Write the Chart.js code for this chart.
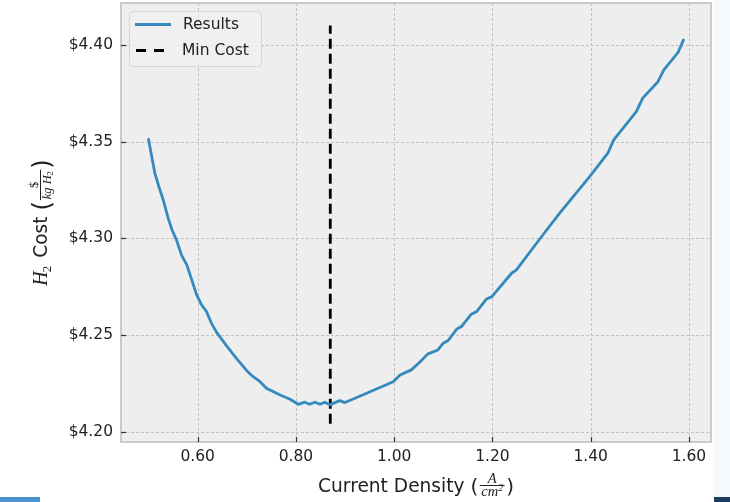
<!DOCTYPE html>
<html><head><meta charset="utf-8">
<script src="https://cdn.jsdelivr.net/npm/chart.js@4.4.1/dist/chart.umd.min.js"></script>
<style>html,body{margin:0;padding:0;background:#fff;overflow:hidden}canvas{display:block}</style>
</head><body>
<canvas id="c" width="730" height="502"></canvas>
<script>
// ---- data ----
const currentDensity = [0.500,0.513,0.520,0.530,0.540,0.548,0.557,0.567,0.578,0.588,0.598,0.608,0.618,0.628,0.639,0.659,0.679,0.700,0.713,0.727,0.740,0.767,0.788,0.805,0.818,0.828,0.839,0.849,0.859,0.869,0.889,0.900,0.944,0.998,1.012,1.035,1.052,1.069,1.089,1.100,1.110,1.127,1.137,1.157,1.168,1.188,1.199,1.239,1.249,1.296,1.337,1.398,1.435,1.447,1.493,1.506,1.537,1.549,1.578,1.589];
const h2Cost = [4.3512,4.3336,4.3276,4.3198,4.3104,4.3043,4.2991,4.2914,4.2862,4.2785,4.2707,4.2655,4.2621,4.2561,4.2512,4.2443,4.2379,4.2315,4.2284,4.2258,4.2224,4.2190,4.2167,4.2141,4.2152,4.2141,4.2152,4.2141,4.2152,4.2138,4.2160,4.2150,4.2198,4.2258,4.2293,4.2319,4.2359,4.2402,4.2422,4.2457,4.2471,4.2529,4.2543,4.2607,4.2621,4.2686,4.2698,4.2819,4.2836,4.2995,4.3130,4.3319,4.3440,4.3509,4.3655,4.3725,4.3810,4.3871,4.3961,4.4026];
const minCostX = [0.87, 0.87];
const minCostY = [4.204, 4.410];
const xTickValues = [0.60, 0.80, 1.00, 1.20, 1.40, 1.60];
const yTickValues = [4.20, 4.25, 4.30, 4.35, 4.40];
const seriesLabels = ['Results', 'Min Cost'];
const lineColor = '#348ABD';

const TXT = '#222';
const SANS = '"DejaVu Sans"';
const SERIF = '"Liberation Serif"';

function drawXTitle(ctx, cx, baseY){
  const fMain = '18.6px ' + SANS;
  const fParen = '20px ' + SANS;
  const fNum = 'italic 14.5px ' + SERIF;
  const fSup = 'italic 10px ' + SERIF;
  ctx.font = fMain; const t1 = 'Current Density '; const w1 = ctx.measureText(t1).width;
  ctx.font = fParen; const wpo = ctx.measureText('(').width; const wpc = ctx.measureText(')').width;
  ctx.font = fNum; const wA = ctx.measureText('A').width; const wcm = ctx.measureText('cm').width;
  ctx.font = fSup; const w2 = ctx.measureText('2').width;
  const fracW = Math.max(wA, wcm + w2) + 6;
  const total = w1 + wpo + fracW + wpc;
  let x = cx - total / 2;
  ctx.fillStyle = TXT; ctx.textBaseline = 'alphabetic'; ctx.textAlign = 'left';
  ctx.font = fMain; ctx.fillText(t1, x, baseY); x += w1;
  ctx.font = fParen; ctx.fillText('(', x, baseY + 1); x += wpo;
  const lineY = baseY - 7;
  ctx.fillRect(x + 1.5, lineY, fracW - 3, 1);
  ctx.font = fNum; ctx.fillText('A', x + (fracW - wA) / 2, lineY - 2.5);
  const dx = x + (fracW - wcm - w2) / 2;
  ctx.fillText('cm', dx, lineY + 11);
  ctx.font = fSup; ctx.fillText('2', dx + wcm, lineY + 5.5);
  x += fracW;
  ctx.font = fParen; ctx.fillText(')', x, baseY + 1);
}

function drawYTitle(ctx, baseX, cy){
  ctx.save();
  ctx.translate(baseX, cy);
  ctx.rotate(-Math.PI / 2);
  const fMain = '18.6px ' + SANS;
  const fParen = '24px ' + SANS;
  const fH = 'italic 20px ' + SERIF;
  const fSub = '13px ' + SERIF;
  const fFr = 'italic 12.5px ' + SERIF;
  const fFrUp = '12.5px ' + SERIF;
  const fFrSub = '9px ' + SERIF;
  ctx.fillStyle = TXT; ctx.textBaseline = 'alphabetic'; ctx.textAlign = 'left';
  ctx.font = fH; const wH = ctx.measureText('H').width;
  ctx.font = fSub; const w2 = ctx.measureText('2').width;
  ctx.font = fMain; const wCost = ctx.measureText(' Cost ').width;
  ctx.font = fParen; const wpo = ctx.measureText('(').width; const wpc = ctx.measureText(')').width;
  ctx.font = fFr; const wkg = ctx.measureText('kg ').width; const wH2 = ctx.measureText('H').width;
  ctx.font = fFrSub; const ws2 = ctx.measureText('2').width;
  ctx.font = fFrUp; const wd = ctx.measureText('$').width;
  const denW = wkg + wH2 + ws2;
  const fracW = Math.max(denW, wd) + 4;
  const total = wH + w2 + 1 + wCost + wpo + fracW + wpc;
  let x = -total / 2;
  ctx.font = fH; ctx.fillText('H', x, 0); x += wH;
  ctx.font = fSub; ctx.fillText('2', x - 1, 4); x += w2 + 1;
  ctx.font = fMain; ctx.fillText(' Cost ', x, 0); x += wCost;
  ctx.font = fParen; ctx.fillText('(', x, 3); x += wpo;
  const lineY = -7;
  ctx.fillRect(x + 1, lineY, fracW - 2, 1);
  ctx.font = fFrUp; ctx.fillText('$', x + (fracW - wd) / 2, lineY - 2.5);
  let dx = x + (fracW - denW) / 2;
  ctx.font = fFr; ctx.fillText('kg ', dx, lineY + 10.5); dx += wkg;
  ctx.fillText('H', dx, lineY + 10.5); dx += wH2;
  ctx.font = fFrSub; ctx.fillText('2', dx - 0.5, lineY + 13);
  x += fracW;
  ctx.font = fParen; ctx.fillText(')', x, 3);
  ctx.restore();
}

const deco = {
  id: 'deco',
  beforeDraw(chart){
    const {ctx, chartArea: a} = chart;
    const xs = chart.scales.x, ys = chart.scales.y;
    ctx.save();
    ctx.fillStyle = '#ffffff'; ctx.fillRect(0, 0, chart.width, chart.height);
    ctx.fillStyle = '#f5f9fd'; ctx.fillRect(714, 0, 16, 502);
    ctx.fillStyle = '#1b3b63'; ctx.fillRect(714, 497, 16, 5);
    ctx.fillStyle = '#4d92cc'; ctx.fillRect(0, 497, 40, 5);
    ctx.fillStyle = '#eeeeee'; ctx.fillRect(a.left, a.top, a.right - a.left, a.bottom - a.top);
    ctx.strokeStyle = '#c2c2c2'; ctx.lineWidth = 1; ctx.setLineDash([3, 2]);
    xTickValues.forEach(v => { const p = Math.round(xs.getPixelForValue(v)) + 0.5; ctx.beginPath(); ctx.moveTo(p, a.top); ctx.lineTo(p, a.bottom); ctx.stroke(); });
    yTickValues.forEach(v => { const p = Math.round(ys.getPixelForValue(v)) + 0.5; ctx.beginPath(); ctx.moveTo(a.left, p); ctx.lineTo(a.right, p); ctx.stroke(); });
    ctx.restore();
  },
  afterDraw(chart){
    const {ctx, chartArea: a} = chart;
    const xs = chart.scales.x, ys = chart.scales.y;
    ctx.save();
    ctx.setLineDash([]);
    ctx.strokeStyle = '#bcbcbc'; ctx.lineWidth = 1.5;
    ctx.strokeRect(a.left, a.top, a.right - a.left, a.bottom - a.top);
    ctx.strokeStyle = '#333'; ctx.lineWidth = 1.2;
    xTickValues.forEach(v => { const p = Math.round(xs.getPixelForValue(v)) + 0.5; ctx.beginPath(); ctx.moveTo(p, a.bottom); ctx.lineTo(p, a.bottom - 5); ctx.stroke(); });
    yTickValues.forEach(v => { const p = Math.round(ys.getPixelForValue(v)) + 0.5; ctx.beginPath(); ctx.moveTo(a.left, p); ctx.lineTo(a.left + 5, p); ctx.stroke(); });
    const lx = 129.5, ly = 11.5, lw = 132, lh = 55, r = 4;
    ctx.beginPath();
    ctx.moveTo(lx + r, ly); ctx.lineTo(lx + lw - r, ly); ctx.quadraticCurveTo(lx + lw, ly, lx + lw, ly + r);
    ctx.lineTo(lx + lw, ly + lh - r); ctx.quadraticCurveTo(lx + lw, ly + lh, lx + lw - r, ly + lh);
    ctx.lineTo(lx + r, ly + lh); ctx.quadraticCurveTo(lx, ly + lh, lx, ly + lh - r);
    ctx.lineTo(lx, ly + r); ctx.quadraticCurveTo(lx, ly, lx + r, ly); ctx.closePath();
    ctx.fillStyle = 'rgba(240,240,240,0.85)'; ctx.fill();
    ctx.strokeStyle = '#d6d6d6'; ctx.lineWidth = 1; ctx.stroke();
    ctx.lineWidth = 2.8; ctx.lineCap = 'butt';
    ctx.strokeStyle = lineColor; ctx.beginPath(); ctx.moveTo(135, 24.5); ctx.lineTo(171, 24.5); ctx.stroke();
    ctx.strokeStyle = '#000'; ctx.setLineDash([10, 8]); ctx.beginPath(); ctx.moveTo(136, 50.5); ctx.lineTo(172, 50.5); ctx.stroke();
    ctx.setLineDash([]);
    ctx.fillStyle = TXT; ctx.font = '15.5px ' + SANS; ctx.textBaseline = 'middle'; ctx.textAlign = 'left';
    ctx.fillText(seriesLabels[0], 183, 25);
    ctx.fillText(seriesLabels[1], 182, 51);
    drawXTitle(ctx, (a.left + a.right) / 2, 492);
    drawYTitle(ctx, 47, (a.top + a.bottom) / 2);
    ctx.restore();
  }
};

const tickFont = {family: 'DejaVu Sans', size: 15.5};
new Chart(document.getElementById('c'), {
  type: 'scatter',
  data: {
    datasets: [
      {label: seriesLabels[0], data: currentDensity.map((x, i) => ({x, y: h2Cost[i]})), showLine: true, borderColor: lineColor, borderWidth: 2.8, pointRadius: 0, tension: 0, borderJoinStyle: 'round', borderCapStyle: 'round'},
      {label: seriesLabels[1], data: minCostX.map((x, i) => ({x, y: minCostY[i]})), showLine: true, borderColor: '#000', borderWidth: 2.8, borderDash: [10, 5], pointRadius: 0}
    ]
  },
  options: {
    responsive: false, animation: false, devicePixelRatio: 1,
    layout: {padding: {top: 3, right: 19, left: 0, bottom: 0}},
    plugins: {legend: {display: false}, tooltip: {enabled: false}},
    scales: {
      x: {type: 'linear', min: 0.444, max: 1.645,
        afterBuildTicks: s => { s.ticks = xTickValues.map(v => ({value: v})); },
        afterFit: s => { s.height = 60; s.paddingLeft = 0; s.paddingRight = 0; },
        grid: {display: false, drawTicks: false}, border: {display: false},
        ticks: {font: tickFont, color: TXT, padding: 6, maxRotation: 0, callback: v => Number(v).toFixed(2)}},
      y: {type: 'linear', min: 4.1946, max: 4.4217,
        afterBuildTicks: s => { s.ticks = yTickValues.map(v => ({value: v})); },
        afterFit: s => { s.width = 121; s.paddingTop = 0; s.paddingBottom = 0; },
        grid: {display: false, drawTicks: false}, border: {display: false},
        ticks: {font: tickFont, color: TXT, padding: 8, callback: v => '$' + Number(v).toFixed(2)}}
    }
  },
  plugins: [deco]
});
</script>
</body></html>
